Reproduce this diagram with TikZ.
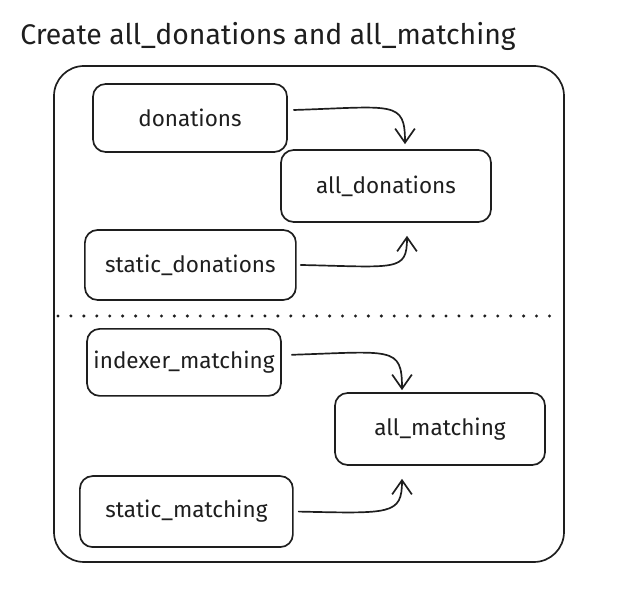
\documentclass[tikz,border=0pt]{standalone}
\usepackage{fontspec}
\setmainfont{Fira Sans}
\usetikzlibrary{arrows.meta}
\definecolor{inkline}{HTML}{1E1E1E}

\begin{document}
\begin{tikzpicture}[inkline, line width=1.2pt, node font=\fontsize{16}{19}\selectfont,
		tablebox/.style={draw, rounded corners=9pt, inner sep=0pt, minimum height=1.75cm},
		flow/.style={-{Straight Barb[length=10pt,width=14pt]}, line cap=round}]
			\useasboundingbox (0,0) rectangle (15.95,15.05);
			\node[anchor=west, font=\fontsize{20.2}{24}\selectfont] (title) at (0.3,14.15) {Create all\_donations and all\_matching};
			\draw[rounded corners=0.75cm] (1.35,1.0) rectangle (14.1,13.4);
			\draw[line width=2.4pt, line cap=round, dash pattern=on 0pt off 9.2pt] (1.45,7.15) -- (14.05,7.15);
			% upper half
			\node[tablebox, minimum width=4.85cm, minimum height=1.7cm] (donations) at (4.75,12.1) {donations};
			\node[tablebox, minimum width=5.25cm, minimum height=1.8cm] (alldonations) at (9.65,10.4) {all\_donations};
			\node[tablebox, minimum width=5.275cm] (staticdonations) at (4.76,8.425) {static\_donations};
			% lower half
			\node[tablebox, minimum width=4.85cm, minimum height=1.675cm] (indexermatching) at (4.6,5.99) {indexer\_matching};
			\node[tablebox, minimum width=5.25cm, minimum height=1.8cm] (allmatching) at (11.0,4.325) {all\_matching};
			\node[tablebox, minimum width=5.325cm, minimum height=1.775cm] (staticmatching) at (4.66,2.26) {static\_matching};
			% flows
			\draw[flow] ([xshift=0.15cm,yshift=0.2cm]donations.east) .. controls +(2.5,0.08) and +(0,1.1) .. ([xshift=0.475cm,yshift=0.125cm]alldonations.north);
			\draw[flow] ([xshift=0.1cm]staticdonations.east) .. controls +(2.4,-0.05) and +(0,-0.9) .. ([xshift=0.525cm,yshift=-0.325cm]alldonations.south);
			\draw[flow] ([xshift=0.25cm,yshift=0.19cm]indexermatching.east) .. controls +(2.5,0.08) and +(0,1.1) .. ([xshift=-0.95cm,yshift=0.05cm]allmatching.north);
			\draw[flow] ([xshift=0.125cm]staticmatching.east) .. controls +(2.3,-0.05) and +(0,-0.9) .. ([xshift=-0.95cm,yshift=-0.325cm]allmatching.south);
		\end{tikzpicture}
\end{document}
